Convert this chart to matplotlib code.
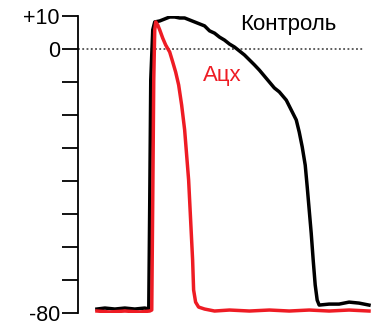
import matplotlib.pyplot as plt
import numpy as np

# traces: time (ms, arbitrary origin) and membrane potential (mV)
control_t = [0, 8, 18, 28, 38, 48, 52, 53, 54, 56, 58, 63, 68, 73, 78, 83, 88, 93, 98,
             103, 108, 113, 118, 123, 128, 133, 138, 143, 148, 153, 158, 163, 168, 173,
             178, 183, 190, 195, 200, 203, 206, 209, 211, 213, 215, 217, 219, 221, 223,
             233, 243, 253, 263, 273]
control_v = [-78.8, -78.5, -78.8, -78.5, -78.8, -78.5, -78.8, -45.8, -9.4, 5.8, 8.2,
             8.5, 9.1, 9.7, 9.7, 9.4, 9.4, 8.8, 8.2, 7.6, 7.0, 5.5, 4.8, 3.6, 2.7, 1.5,
             0.6, -0.6, -1.8, -3.3, -4.8, -6.4, -8.2, -10.0, -11.8, -13.0, -15.5, -18.5,
             -21.5, -25.2, -29.7, -35.2, -41.8, -48.8, -55.8, -64.0, -71.5, -76.1, -77.6,
             -77.3, -77.3, -76.7, -77.0, -77.6]

acx_t = [0, 13, 28, 43, 53, 55, 56, 57, 58, 59, 61, 63, 66, 69, 73, 76, 79, 82, 85,
         88, 90, 92, 94, 96, 97, 99, 102, 108, 118, 133, 153, 173, 193, 213, 233, 253, 273]
acx_v = [-79.4, -79.7, -79.4, -79.7, -79.4, -79.1, -45.8, -9.4, 5.8, 8.2, 7.3, 5.8,
         3.3, 1.2, -0.9, -3.9, -7.0, -10.9, -17.0, -24.5, -32.1, -39.7, -51.8, -63.9,
         -73.0, -76.7, -78.2, -78.8, -79.4, -79.1, -79.4, -79.1, -79.4, -79.1, -79.4,
         -79.1, -79.4]

tick_vals = np.arange(10, -81, -10)
tick_text = ['+10', '0', '', '', '', '', '', '', '', '-80']

plt.rcParams['font.family'] = ['Liberation Sans', 'DejaVu Sans']

fig = plt.figure(figsize=(3.73, 3.23), dpi=100)
ax = fig.add_axes([78 / 373, 10 / 323, 294 / 373, 297 / 323])

ax.plot([-19, 268], [0, 0], ls=(0, (1.2, 1.6)), color='#333333', lw=1.1)
ax.plot(control_t, control_v, color='black', lw=2.5, solid_joinstyle='round')
ax.plot(acx_t, acx_v, color='#ee1c24', lw=2.5, solid_joinstyle='round')

ax.set_xlim(-19, 276)
ax.set_ylim(-80, 10)
ax.set_yticks(tick_vals)
ax.set_yticklabels(tick_text, fontsize=15.5)
ax.tick_params(axis='y', length=11.5, width=1.3, pad=1.5)
ax.set_xticks([])
for s in ['top', 'right', 'bottom']:
    ax.spines[s].set_visible(False)
ax.spines['left'].set_linewidth(1.3)

ax.text(192, 7.3, 'Контроль', fontsize=16, color='black', ha='center', va='center')
ax.text(126, -7.9, 'Ацх', fontsize=16, color='#ee1c24', ha='center', va='center')

fig.savefig('out.png', dpi=100)
